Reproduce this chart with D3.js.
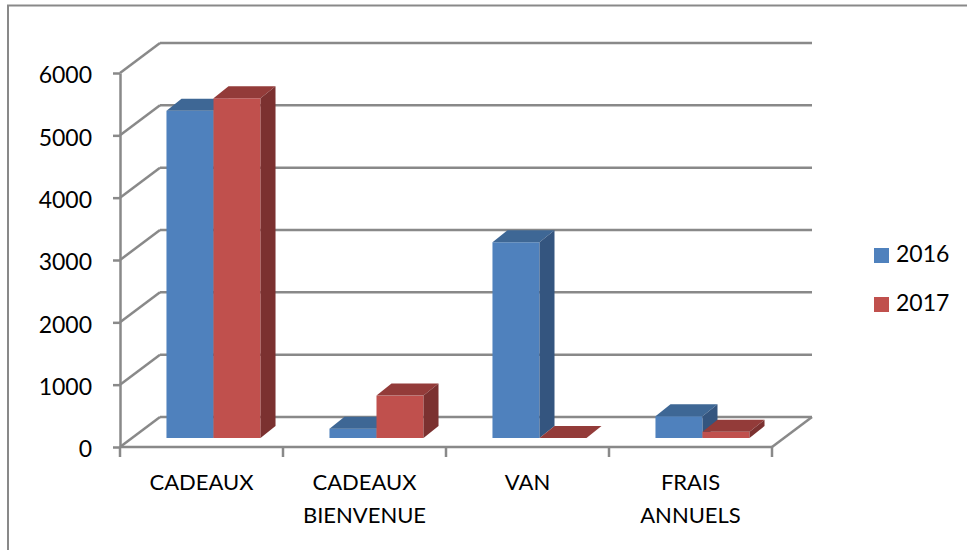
<!DOCTYPE html>
<html>
<head>
<meta charset="utf-8">
<script src="https://cdn.jsdelivr.net/npm/d3@7"></script>
<style>
  body { margin: 0; background: #fff; }
  svg { display: block; }
</style>
</head>
<body>
<div id="chart"></div>
<script>
const categories = ["CADEAUX", "CADEAUX BIENVENUE", "VAN", "FRAIS ANNUELS"];
const series = ["2016", "2017"];
const values2016 = [5250, 150, 3140, 350];
const values2017 = [5450, 680, 0, 100];
const yTicks = [0, 1000, 2000, 3000, 4000, 5000, 6000];

const W = 967, H = 550;
const font = "Lato, 'Open Sans', sans-serif";
const grid = "#898989";
const colors = {
  "2016": { front: "#4F81BD", top: "#3E6795", side: "#34557F" },
  "2017": { front: "#C0504D", top: "#933B39", side: "#7B3130" }
};

// floor depth vector (front -> back wall)
const depth = { dx: 40, dy: -30 };
// bars sit part way into the floor
const barZ = 0.3, barDepth = { dx: 15, dy: -12 };

const svg = d3.select("#chart").append("svg")
  .attr("width", W).attr("height", H);

// outer chart border (right and bottom fall outside the picture)
svg.append("rect")
  .attr("x", 8).attr("y", 5.5).attr("width", 1000).attr("height", 600)
  .attr("fill", "none").attr("stroke", grid).attr("stroke-width", 2);

const x0 = 120, x1 = 772;
const y = d3.scaleLinear().domain([0, 6000]).range([447, 73]);
const xCat = d3.scaleBand().domain(categories).range([x0, x1]);
const xBar = d3.scaleBand().domain(categories).range([x0, x1])
  .paddingInner(0.423).paddingOuter(0.2115);
const xSeries = d3.scaleBand().domain(series).range([0, xBar.bandwidth()]);

const g = svg.append("g");

// back wall gridlines
g.selectAll("line.back").data(yTicks).enter().append("line")
  .attr("x1", x0 + depth.dx).attr("x2", x1 + depth.dx)
  .attr("y1", d => y(d) + depth.dy).attr("y2", d => y(d) + depth.dy)
  .attr("stroke", grid).attr("stroke-width", 2.5);

// side wall diagonals
g.selectAll("line.side").data(yTicks).enter().append("line")
  .attr("x1", x0).attr("x2", x0 + depth.dx)
  .attr("y1", d => y(d)).attr("y2", d => y(d) + depth.dy)
  .attr("stroke", grid).attr("stroke-width", 2.5);

// floor right edge
g.append("line")
  .attr("x1", x1).attr("y1", y(0))
  .attr("x2", x1 + depth.dx).attr("y2", y(0) + depth.dy)
  .attr("stroke", grid).attr("stroke-width", 2.5);

// bars
const bx = barZ * depth.dx, by = barZ * depth.dy;
const rows = [];
categories.forEach((c, i) => {
  rows.push({ cat: c, s: "2016", v: values2016[i] });
  rows.push({ cat: c, s: "2017", v: values2017[i] });
});

const bars = g.selectAll("g.bar").data(rows).enter().append("g");
bars.each(function (d) {
  const el = d3.select(this);
  const xl = xBar(d.cat) + xSeries(d.s) + bx;
  const xr = xl + xSeries.bandwidth();
  const yb = y(0) + by;
  const yt = y(d.v) + by;
  const c = colors[d.s];
  el.append("rect")
    .attr("x", xl).attr("y", yt)
    .attr("width", xr - xl).attr("height", yb - yt)
    .attr("fill", c.front);
  el.append("path")
    .attr("d", `M${xl},${yt}L${xr},${yt}L${xr + barDepth.dx},${yt + barDepth.dy}L${xl + barDepth.dx},${yt + barDepth.dy}Z`)
    .attr("fill", c.top);
  el.append("path")
    .attr("d", `M${xr},${yt}L${xr + barDepth.dx},${yt + barDepth.dy}L${xr + barDepth.dx},${yb + barDepth.dy}L${xr},${yb}Z`)
    .attr("fill", c.side);
});

// y axis on the front plane
const yAxis = svg.append("g")
  .attr("transform", `translate(${x0},0)`)
  .call(d3.axisLeft(y).tickValues(yTicks).tickFormat(d3.format("d"))
    .tickSize(7).tickSizeOuter(0).tickPadding(21));
yAxis.select(".domain").attr("stroke", grid).attr("stroke-width", 2.5);
yAxis.selectAll(".tick line").attr("stroke", grid).attr("stroke-width", 2.5);
yAxis.selectAll(".tick text")
  .attr("font-family", font).attr("font-size", 23).attr("fill", "#000")
  .attr("dy", "0.42em");

// x axis front edge
svg.append("line")
  .attr("x1", x0).attr("x2", x1).attr("y1", y(0)).attr("y2", y(0))
  .attr("stroke", grid).attr("stroke-width", 2.5);
const xTickPos = categories.map(c => xCat(c)).concat([x1]);
svg.selectAll("line.xtick").data(xTickPos).enter().append("line")
  .attr("x1", d => d).attr("x2", d => d)
  .attr("y1", y(0)).attr("y2", y(0) + 10)
  .attr("stroke", grid).attr("stroke-width", 2.5);

const labels = svg.selectAll("text.cat").data(categories).enter().append("text")
  .attr("text-anchor", "middle")
  .attr("font-family", font).attr("font-size", 22).attr("fill", "#000");
labels.each(function (c) {
  const t = d3.select(this);
  c.split(" ").forEach((w, k) => {
    t.append("tspan")
      .attr("x", xCat(c) + xCat.bandwidth() / 2)
      .attr("y", 490 + k * 33)
      .text(w);
  });
});

// legend
const legend = svg.selectAll("g.legend").data(series).enter().append("g")
  .attr("transform", (d, i) => `translate(874,${248 + i * 49})`);
legend.append("rect")
  .attr("width", 15).attr("height", 15)
  .attr("fill", d => colors[d].front);
legend.append("text")
  .attr("x", 22).attr("y", 14)
  .attr("font-family", font).attr("font-size", 23).attr("fill", "#000")
  .text(d => d);
</script>
</body>
</html>
